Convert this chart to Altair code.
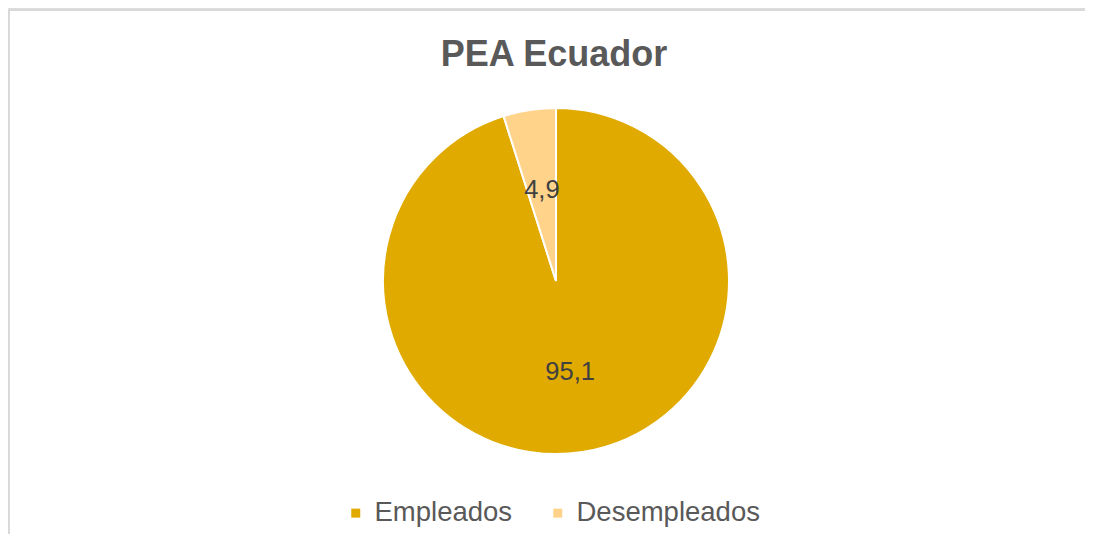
import altair as alt
import pandas as pd

categories = ["Empleados", "Desempleados"]
values = [95.1, 4.9]
labels = ["95,1", "4,9"]
colors = ["#E0AA00", "#FFD38A"]
title_text = "PEA Ecuador"

df = pd.DataFrame({"categoria": categories, "valor": values,
                   "etiqueta": labels, "orden": list(range(len(categories)))})

FONT = "Liberation Sans"
CX, CY, R = 548, 273, 173

base = alt.Chart(df)

arcs = base.mark_arc(outerRadius=R, stroke="white", strokeWidth=2).encode(
    theta=alt.Theta("valor:Q", stack=True),
    order=alt.Order("orden:Q"),
    x=alt.value(CX),
    y=alt.value(CY),
    color=alt.Color(
        "categoria:N",
        scale=alt.Scale(domain=categories, range=colors),
        legend=alt.Legend(
            orient="none", legendX=334, legendY=491, direction="horizontal",
            title=None, symbolType="square", symbolSize=81, symbolStrokeWidth=0,
            labelFontSize=27.5, labelFont=FONT, labelColor="#595959",
            labelOffset=5, columnPadding=31, labelLimit=400,
        ),
    ),
)

texts = base.mark_text(radius=92, font=FONT, fontSize=25.5, color="#404040").encode(
    theta=alt.Theta("valor:Q", stack=True),
    order=alt.Order("orden:Q"),
    x=alt.value(CX),
    y=alt.value(CY),
    text="etiqueta:N",
)

title = alt.Chart(alt.Data(values=[{"t": title_text}])).mark_text(
    font=FONT, fontSize=36, fontWeight="bold", color="#595959", baseline="alphabetic"
).encode(x=alt.value(546), y=alt.value(58), text="t:N")

one = alt.Data(values=[{"a": 1}])
top_rule = alt.Chart(one).mark_rule(color="#D9D9D9", strokeWidth=2).encode(
    x=alt.value(0), x2=alt.value(1077), y=alt.value(2))
left_rule = alt.Chart(one).mark_rule(color="#D9D9D9", strokeWidth=2).encode(
    x=alt.value(1), y=alt.value(2), y2=alt.value(526))

chart = alt.layer(top_rule, left_rule, arcs, texts, title).properties(
    width=1077, height=526, autosize=alt.AutoSizeParams(type="none"), padding=0
).configure_view(stroke=None).configure(background="white")

chart.save("out.html", embed_options={"renderer": "svg", "actions": False})
